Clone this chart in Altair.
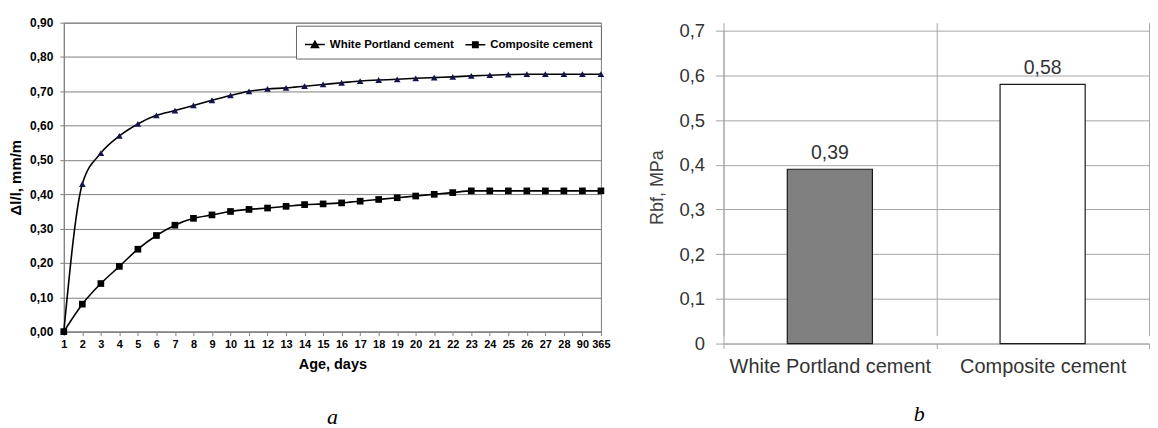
import altair as alt
import pandas as pd

# ---------------- data ----------------
days = ["1", "2", "3", "4", "5", "6", "7", "8", "9", "10", "11", "12", "13", "14",
        "15", "16", "17", "18", "19", "20", "21", "22", "23", "24", "25", "26", "27",
        "28", "90", "365"]
wpc = [0.00, 0.43, 0.52, 0.57, 0.605, 0.63, 0.644, 0.659, 0.674, 0.688, 0.70, 0.707,
       0.71, 0.715, 0.72, 0.725, 0.73, 0.733, 0.735, 0.738, 0.74, 0.742, 0.745, 0.747,
       0.749, 0.75, 0.75, 0.75, 0.75, 0.75]
composite = [0.00, 0.08, 0.14, 0.19, 0.24, 0.28, 0.31, 0.33, 0.34, 0.35, 0.356, 0.36,
             0.365, 0.37, 0.372, 0.375, 0.38, 0.385, 0.39, 0.395, 0.40, 0.405, 0.41,
             0.41, 0.41, 0.41, 0.41, 0.41, 0.41, 0.41]
series_names = ["White Portland cement", "Composite cement"]
y_ticks_left = [0.0, 0.1, 0.2, 0.3, 0.4, 0.5, 0.6, 0.7, 0.8, 0.9]

strength = [0.39, 0.58]
bar_fill = ["#808080", "#ffffff"]
y_ticks_right = [0.0, 0.1, 0.2, 0.3, 0.4, 0.5, 0.6, 0.7]

rows = []
for d, a, b in zip(days, wpc, composite):
    rows.append({"day": d, "series": series_names[0], "value": a})
    rows.append({"day": d, "series": series_names[1], "value": b})
df = pd.DataFrame(rows)
df_bar = pd.DataFrame({"cement": series_names, "rbf": strength})

SANS = "Liberation Sans"
SERIF = "Liberation Serif"

# ---------------- left chart ----------------
x_left = alt.X(
    "day:N", sort=days,
    scale=alt.Scale(type="point", padding=0),
    axis=alt.Axis(
        title="Age, days", labelAngle=0, labelFont=SANS, labelFontWeight="bold",
        labelFontSize=11, labelColor="black", labelPadding=3, labelOverlap=False,
        tickColor="#808080", tickSize=4, domainColor="#808080", grid=False,
        titleFont=SANS, titleFontWeight="bold", titleFontSize=14.5,
        titleColor="black", titlePadding=8,
    ),
)
y_left = alt.Y(
    "value:Q",
    scale=alt.Scale(domain=[0, 0.9], nice=False),
    axis=alt.Axis(
        title="Δl/l, mm/m", values=y_ticks_left,
        labelExpr="replace(format(datum.value, '.2f'), '.', ',')",
        labelFont=SANS, labelFontWeight="bold", labelFontSize=12, labelColor="black",
        labelPadding=7, tickSize=4, tickColor="#808080", domainColor="#808080",
        gridColor="#808080", gridWidth=1,
        titleFont=SANS, titleFontWeight="bold", titleFontSize=15,
        titleColor="black", titlePadding=6,
    ),
)

# legend symbols: a short line with a (stroked, nested => solid) marker on it
legend_paths = [
    "M-1,0L1,0"
    "M-0.36,0.3L0.36,0.3L0,-0.34Z"
    "M-0.22,0.2L0.22,0.2L0,-0.17Z"
    "M-0.08,0.1L0.08,0.1L0,0Z",
    "M-1,0L1,0"
    "M-0.27,-0.27L0.27,-0.27L0.27,0.27L-0.27,0.27Z"
    "M-0.14,-0.14L0.14,-0.14L0.14,0.14L-0.14,0.14Z"
    "M-0.03,-0.03L0.03,-0.03L0.03,0.03L-0.03,0.03Z",
]

line = alt.Chart(df).mark_line(interpolate="monotone", color="black", strokeWidth=1.6).encode(
    x=x_left, y=y_left, detail="series:N"
)
points = alt.Chart(df).mark_point(filled=True, size=45, opacity=1).encode(
    x=x_left, y=y_left,
    shape=alt.Shape(
        "series:N",
        scale=alt.Scale(domain=series_names, range=["triangle-up", "square"]),
        legend=None,
    ),
    color=alt.Color(
        "series:N",
        scale=alt.Scale(domain=series_names, range=["#14144d", "#000000"]),
        legend=None,
    ),
)
legend_layer = alt.Chart(df).transform_filter("false").mark_point(
    filled=False, color="black", opacity=1, strokeWidth=1.5
).encode(
    x=x_left, y=y_left,
    shape=alt.Shape(
        "series:N",
        scale=alt.Scale(domain=series_names, range=legend_paths),
        legend=alt.Legend(
            title=None, orient="none", legendX=233, legendY=3,
            direction="horizontal", fillColor="white", strokeColor="#666666",
            padding=8, symbolSize=400, labelFont=SANS, labelFontWeight="bold",
            labelFontSize=11.5, labelColor="black", columnPadding=8, labelOffset=4,
            symbolStrokeColor="black", symbolStrokeWidth=1.5, symbolOpacity=1,
        ),
    ),
)

left = alt.layer(line, points, legend_layer).resolve_scale(shape="independent").properties(
    width=539, height=310,
    view=alt.ViewBackground(stroke="#808080"),
    title=alt.TitleParams("a", orient="bottom", font=SERIF, fontStyle="italic",
                          fontWeight="normal", fontSize=22, color="black", offset=36),
)

# ---------------- right chart ----------------
base = alt.Chart(df_bar).transform_calculate(
    label="replace(format(datum.rbf, '.2f'), '.', ',')"
).encode(
    x=alt.X(
        "cement:N", sort=series_names,
        scale=alt.Scale(paddingInner=0, paddingOuter=0),
        axis=alt.Axis(
            title="b", labelAngle=0, labelFont=SANS, labelFontSize=20,
            labelColor="#333333", labelPadding=8, labelLimit=500, tickBand="extent",
            grid=True, gridColor="#a6a6a6", tickColor="#a6a6a6", tickSize=5,
            domainColor="#a6a6a6", titleFont=SERIF, titleFontStyle="italic",
            titleFontWeight="normal", titleFontSize=22, titleColor="black",
            titlePadding=27, titleX=196,
        ),
    ),
    y=alt.Y(
        "rbf:Q",
        scale=alt.Scale(domain=[0, 0.7], nice=False, range=[322, 8]),
        axis=alt.Axis(
            title="Rbf, MPa", values=y_ticks_right,
            labelExpr="datum.value == 0 ? '0' : replace(format(datum.value, '.1f'), '.', ',')",
            labelFont=SANS, labelFontSize=18.5, labelColor="#333333", labelPadding=11,
            tickSize=8, tickColor="#a6a6a6", domainColor="#a6a6a6",
            gridColor="#a6a6a6", titleFont=SANS, titleFontWeight="normal",
            titleFontSize=18, titleColor="#404040", titlePadding=12,
        ),
    ),
)
bars = base.mark_bar(width=alt.RelativeBandSize(0.4), stroke="#1a1a1a", strokeWidth=1.2).encode(
    fill=alt.Fill("cement:N", scale=alt.Scale(domain=series_names, range=bar_fill), legend=None)
)
labels = base.mark_text(baseline="alphabetic", dy=-10, font=SANS, fontSize=19.5,
                        color="#333333").encode(text="label:N")

right = alt.layer(bars, labels).properties(
    width=427, height=322,
    view=alt.ViewBackground(stroke=None),
)

chart = alt.hconcat(left, right, spacing=38).properties(
    padding={"left": 0, "top": 7, "right": 0, "bottom": 0}
)

chart.save("out.html", embed_options={"renderer": "svg", "actions": False})
